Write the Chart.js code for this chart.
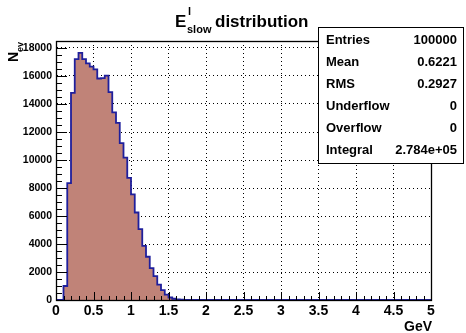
<!DOCTYPE html>
<html lang="en">
<head>
    <meta charset="UTF-8">
    <title>E slow distribution</title>
    <script src="https://cdn.jsdelivr.net/npm/chart.js"></script>
    <style>
        html, body {
            margin: 0;
            padding: 0;
            background: #fff;
        }
        #hist {
            display: block;
        }
    </style>
</head>
<body>
    <canvas id="hist" width="466" height="333"></canvas>

    <script>
        // Histogram binning (GeV)
        const xMin = 0;
        const xMax = 5;
        const binWidth = 0.05;

        // Bin contents starting at xMin, one per 0.05 GeV bin (later bins are empty)
        const counts = [
            0, 0, 1000, 8350, 14800, 17200, 17650, 17200, 16900, 16670,
            16480, 15820, 15850, 16020, 14850, 13400, 12650, 11200, 10170, 8730,
            7550, 6250, 5060, 3860, 3090, 2280, 1710, 1100, 700, 390,
            180, 90, 50, 25, 12, 5, 0
        ];

        // Axis ticks
        const xTicks = [0, 0.5, 1, 1.5, 2, 2.5, 3, 3.5, 4, 4.5, 5];
        const yTicks = [0, 2000, 4000, 6000, 8000, 10000, 12000, 14000, 16000, 18000];
        const yMax = 18500;

        // Statistics box
        const statNames = ['Entries', 'Mean', 'RMS', 'Underflow', 'Overflow', 'Integral'];
        const statValues = ['100000', '0.6221', '0.2927', '0', '0', '2.784e+05'];

        const FONT = '"Liberation Sans", Arial, sans-serif';

        // Points at the low edge of every bin, closed at the upper axis limit
        const histPoints = counts.map((c, i) => ({ x: xMin + i * binWidth, y: c }));
        histPoints.push({ x: xMax, y: 0 });

        // Frame, inside ticks, titles and stats box drawn ROOT style
        const rootDecor = {
            id: 'rootDecor',
            afterDatasetsDraw(chart) {
                const { ctx, chartArea: a, scales: { x, y } } = chart;
                ctx.save();
                ctx.strokeStyle = '#000';
                ctx.lineWidth = 1;

                // x ticks: major every 0.5, minor every 0.1
                ctx.beginPath();
                for (let k = 0; k <= 50; k++) {
                    const px = Math.round(x.getPixelForValue(k * 0.1)) + 0.5;
                    const len = (k % 5 === 0) ? 8 : 4;
                    ctx.moveTo(px, a.bottom);
                    ctx.lineTo(px, a.bottom - len);
                }
                // y ticks: major every 2000, minor every 500
                for (let k = 0; k <= 37; k++) {
                    const py = Math.round(y.getPixelForValue(k * 500)) + 0.5;
                    const len = (k % 4 === 0) ? 11 : 6;
                    ctx.moveTo(a.left, py);
                    ctx.lineTo(a.left + len, py);
                }
                ctx.stroke();

                // frame
                ctx.lineWidth = 1.3;
                ctx.strokeRect(a.left + 0.5, a.top + 0.5, a.right - a.left, a.bottom - a.top);
                ctx.restore();
            },
            afterDraw(chart) {
                const { ctx } = chart;
                ctx.save();
                ctx.fillStyle = '#000';
                ctx.textBaseline = 'alphabetic';

                // title: E^l_slow distribution
                ctx.textAlign = 'left';
                ctx.font = 'bold 17px ' + FONT;
                ctx.fillText('E', 175, 27);
                ctx.font = 'bold 11px ' + FONT;
                ctx.fillText('l', 188, 15);
                ctx.fillText('slow', 187, 33);
                ctx.font = 'bold 17px ' + FONT;
                ctx.fillText('distribution', 215, 27);

                // y axis title N_ev
                ctx.save();
                ctx.translate(18, 62);
                ctx.rotate(-Math.PI / 2);
                ctx.font = 'bold 14px ' + FONT;
                ctx.fillText('N', 0, 0);
                const nw = ctx.measureText('N').width;
                ctx.font = 'bold 9px ' + FONT;
                ctx.fillText('ev', nw, 5);
                ctx.restore();

                // x axis title
                ctx.textAlign = 'right';
                ctx.font = 'bold 14px ' + FONT;
                ctx.fillText('GeV', 432, 331);

                // stats box
                const bx = 318, by = 27, bw = 145, bh = 136;
                ctx.fillStyle = '#fff';
                ctx.fillRect(bx, by, bw, bh);
                ctx.strokeStyle = '#000';
                ctx.lineWidth = 1;
                ctx.strokeRect(bx + 0.5, by + 0.5, bw, bh);
                ctx.fillStyle = '#000';
                ctx.font = 'bold 13px ' + FONT;
                ctx.textBaseline = 'middle';
                statNames.forEach((name, i) => {
                    const ty = 40 + i * 22;
                    ctx.textAlign = 'left';
                    ctx.fillText(name, 326, ty);
                    ctx.textAlign = 'right';
                    ctx.fillText(statValues[i], 457, ty);
                });
                ctx.restore();
            }
        };

        new Chart(document.getElementById('hist').getContext('2d'), {
            type: 'line',
            data: {
                datasets: [{
                    label: 'E slow',
                    data: histPoints,
                    stepped: 'before',
                    borderColor: '#1f1f9c',
                    borderWidth: 1.8,
                    backgroundColor: '#c08378',
                    fill: 'origin',
                    pointRadius: 0,
                    tension: 0
                }]
            },
            options: {
                responsive: false,
                animation: false,
                layout: {
                    padding: { left: 0, top: 41, right: 35, bottom: 0 }
                },
                plugins: {
                    legend: { display: false },
                    title: { display: false },
                    tooltip: { enabled: false }
                },
                scales: {
                    x: {
                        type: 'linear',
                        min: xMin,
                        max: xMax,
                        afterBuildTicks: s => { s.ticks = xTicks.map(v => ({ value: v })); },
                        afterFit: s => { s.height = 33; },
                        ticks: {
                            color: '#000',
                            padding: 3,
                            maxRotation: 0,
                            autoSkip: false,
                            font: { family: FONT, size: 14, weight: 'bold' },
                            callback: v => String(v)
                        },
                        grid: {
                            color: '#000',
                            lineWidth: 1,
                            drawTicks: false
                        },
                        border: { display: true, color: '#000', width: 1, dash: [1, 3] }
                    },
                    y: {
                        type: 'linear',
                        min: 0,
                        max: yMax,
                        afterBuildTicks: s => { s.ticks = yTicks.map(v => ({ value: v })); },
                        afterFit: s => { s.width = 56; },
                        ticks: {
                            color: '#000',
                            padding: 4,
                            autoSkip: false,
                            font: { family: FONT, size: 10.5, weight: 'bold' },
                            callback: v => String(v)
                        },
                        grid: {
                            color: '#000',
                            lineWidth: 1,
                            drawTicks: false
                        },
                        border: { display: true, color: '#000', width: 1, dash: [1, 3] }
                    }
                }
            },
            plugins: [rootDecor]
        });
    </script>
</body>
</html>
